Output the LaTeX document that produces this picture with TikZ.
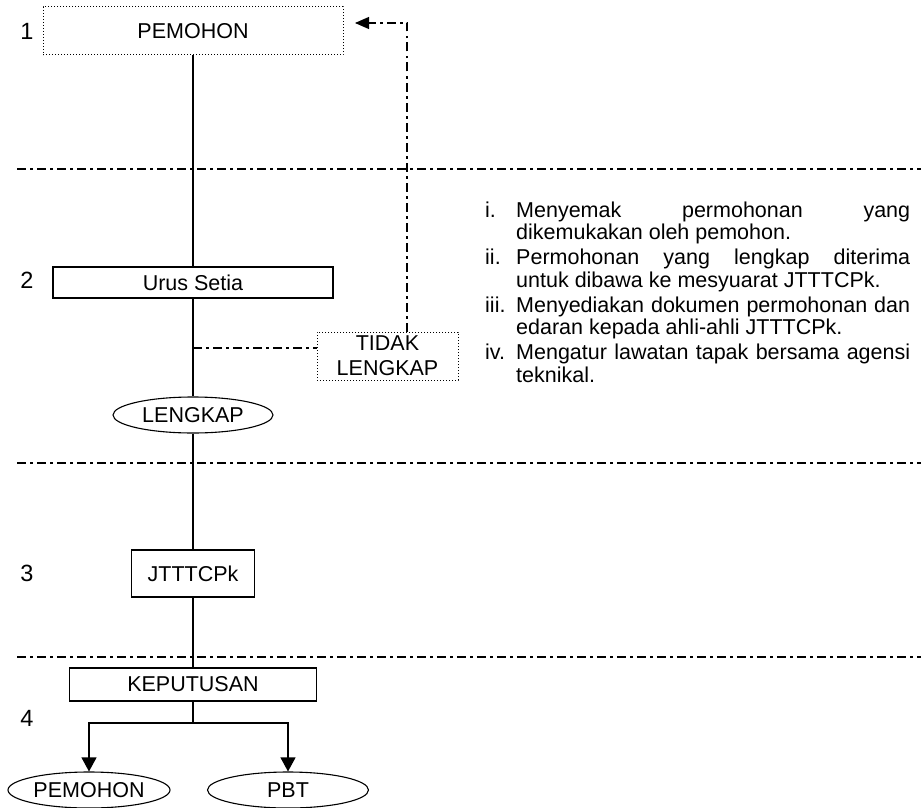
\documentclass[tikz,border=0pt]{standalone}
\usepackage{fontspec}
\setmainfont{Liberation Sans}
\usetikzlibrary{shapes.geometric,arrows.meta}

\tikzstyle{every node}=[font=\fontsize{21.5}{21}\selectfont]
\tikzstyle{box}=[draw, rectangle, line width=1.1pt, inner sep=0pt]
\tikzstyle{dotbox}=[draw, rectangle, line width=1pt, dash pattern=on 1.2pt off 1.8pt, inner sep=0pt]
\tikzstyle{oval}=[draw, ellipse, line width=1.1pt, inner sep=0pt, minimum height=36pt]
\tikzstyle{num}=[inner sep=0pt, font=\fontsize{23.5}{24}\selectfont]
\tikzstyle{link}=[line width=1.1pt]
\tikzstyle{dashdot}=[line width=1.1pt, dash pattern=on 9pt off 4pt on 2.5pt off 4.5pt]
\tikzstyle{item}=[anchor=north west, inner sep=0pt, text width=394pt, align=justify]
\tikzstyle{itemno}=[anchor=north west, inner sep=0pt]

\begin{document}
\begin{tikzpicture}[x=1pt,y=-1pt]
    \useasboundingbox (0,0) rectangle (921,808);
    \tolerance=9999 \hyphenpenalty=10000

    % step numbers
    \node[num] (s1) at (27,31) {1};
    \node[num] (s2) at (27,280) {2};
    \node[num] (s3) at (27,573) {3};
    \node[num] (s4) at (27,718) {4};

    % separators
    \draw[dashdot] (17,169) -- (921,169);
    \draw[dashdot] (17,463) -- (921,463);
    \draw[dashdot] (17,657) -- (921,657);

    \node[dotbox, minimum width=300pt, minimum height=48pt] (pem1) at (193,31) {PEMOHON};
    \node[box, minimum width=280pt, minimum height=31pt] (urus) at (193,282.5) {Urus Setia};
    \node[dotbox, minimum width=141pt, minimum height=48pt, align=center,
          font=\fontsize{21.5}{25}\selectfont] (tidak) at (387.5,356) {TIDAK\\LENGKAP};
    \node[oval, minimum width=160pt] (lengkap) at (193,415) {LENGKAP};
    \node[box, minimum width=123pt, minimum height=47pt] (jtt) at (193,573.5) {JTTTCPk};
    \node[box, minimum width=247pt, minimum height=33pt] (kep) at (193,684.5) {KEPUTUSAN};
    \node[oval, minimum width=162pt] (pem2) at (89,790) {PEMOHON};
    \node[oval, minimum width=161pt] (pbt) at (288,790) {PBT};

    \coordinate (split) at (193,348);
    \coordinate (fbtop) at (407,23);
    \coordinate (fbend) at (355,23);
    \coordinate (branch) at (193,723);

    \path[draw,link]
    (pem1) edge (urus)
    (urus) edge (lengkap)
    (lengkap) edge (jtt)
    (jtt) edge (kep)
    ;
    \draw[dashdot] (split) -- (split -| tidak.west);
    \draw[dashdot, -{Triangle[length=14pt,width=12pt]}]
        (tidak.north -| fbtop) -- (fbtop) -- (fbend);
    \draw[link] (kep.south) -- (branch);
    \draw[link, -{Triangle[length=14pt,width=15pt]}] (branch) -| (pem2.north);
    \draw[link, -{Triangle[length=14pt,width=15pt]}] (branch) -| (pbt.north);

    % tasks of the secretariat
    \node[itemno] (n1) at (485,201.3) {\strut i.};
    \node[item] (t1) at (516,201.3) {\strut Menyemak permohonan yang\linebreak dikemukakan oleh pemohon.};
    \node[itemno] (n2) at (485,248.8) {\strut ii.};
    \node[item] (t2) at (516,248.8) {\strut Permohonan yang lengkap diterima\linebreak untuk dibawa ke mesyuarat JTTTCPk.};
    \node[itemno] (n3) at (485,296.3) {\strut iii.};
    \node[item] (t3) at (516,296.3) {\strut Menyediakan dokumen permohonan dan\linebreak edaran kepada ahli-ahli JTTTCPk.};
    \node[itemno] (n4) at (485,343.8) {\strut iv.};
    \node[item] (t4) at (516,343.8) {\strut Mengatur lawatan tapak bersama agensi\linebreak teknikal.};
\end{tikzpicture}
\end{document}
